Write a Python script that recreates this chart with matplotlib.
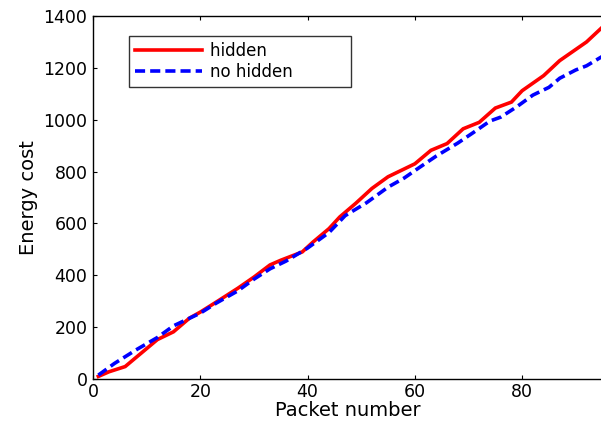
import matplotlib
matplotlib.use("Agg")
import matplotlib.pyplot as plt

# Data
hidden_x = [1, 3, 6, 9, 12, 15, 18, 20, 23, 27, 30, 33, 35, 39, 41, 44, 46, 49,
            52, 55, 57, 60, 63, 66, 69, 72, 75, 78, 80, 84, 87, 92, 95]
hidden_y = [10, 28, 48, 100, 152, 182, 235, 258, 297, 350, 393, 440, 458, 490,
            528, 580, 625, 678, 735, 780, 800, 830, 882, 908, 965, 990, 1045,
            1068, 1112, 1170, 1228, 1300, 1358]

nohidden_x = [1, 4, 8, 12, 15, 20, 23, 27, 30, 33, 36, 40, 44, 47, 51, 55, 58,
              61, 64, 66, 68, 71, 74, 76, 79, 82, 85, 87, 90, 92, 95]
nohidden_y = [15, 60, 112, 160, 205, 254, 293, 340, 385, 425, 455, 505, 565,
              630, 680, 740, 775, 818, 860, 885, 910, 952, 995, 1010, 1050,
              1095, 1125, 1160, 1192, 1208, 1245]

series_labels = ["hidden", "no hidden"]
x_ticks = [0, 20, 40, 60, 80]
y_ticks = [0, 200, 400, 600, 800, 1000, 1200, 1400]

plt.rcParams['font.family'] = ['DejaVu Sans']

fig = plt.figure(figsize=(6.01, 4.25), dpi=100)
ax = fig.add_axes([0.1547, 0.1082, 0.848, 0.8541])

ax.plot(hidden_x, hidden_y, color=(1, 0, 0), lw=2.6, solid_joinstyle='miter',
        label=series_labels[0])
ax.plot(nohidden_x, nohidden_y, color=(0, 0, 1), lw=2.6, linestyle=(0, (2.8, 1.4)),
        label=series_labels[1])

ax.set_xlim(0, 95)
ax.set_ylim(0, 1400)
ax.set_xticks(x_ticks)
ax.set_yticks(y_ticks)
ax.tick_params(direction='in', length=3, width=0.8, top=True, right=False,
               labelsize=12.5, colors='black')
ax.tick_params(axis='x', pad=3)
ax.tick_params(axis='y', pad=4)
for s in ax.spines.values():
    s.set_linewidth(1.0)
    s.set_color('black')

ax.set_xlabel("Packet number", fontsize=14, labelpad=0)
ax.set_ylabel("Energy cost", fontsize=14, labelpad=4)

leg = ax.legend(loc='upper left', bbox_to_anchor=(0.071, 0.945),
                fontsize=12, frameon=True, fancybox=False, edgecolor='black',
                handlelength=4.0, handletextpad=0.5, borderpad=0.35,
                labelspacing=0.2, borderaxespad=0)
leg.get_frame().set_linewidth(1.0)
# widen the legend frame to the right like the reference
for t in leg.get_texts():
    t.set_text(t.get_text() + "          ")

fig.savefig("out.png", dpi=100)
